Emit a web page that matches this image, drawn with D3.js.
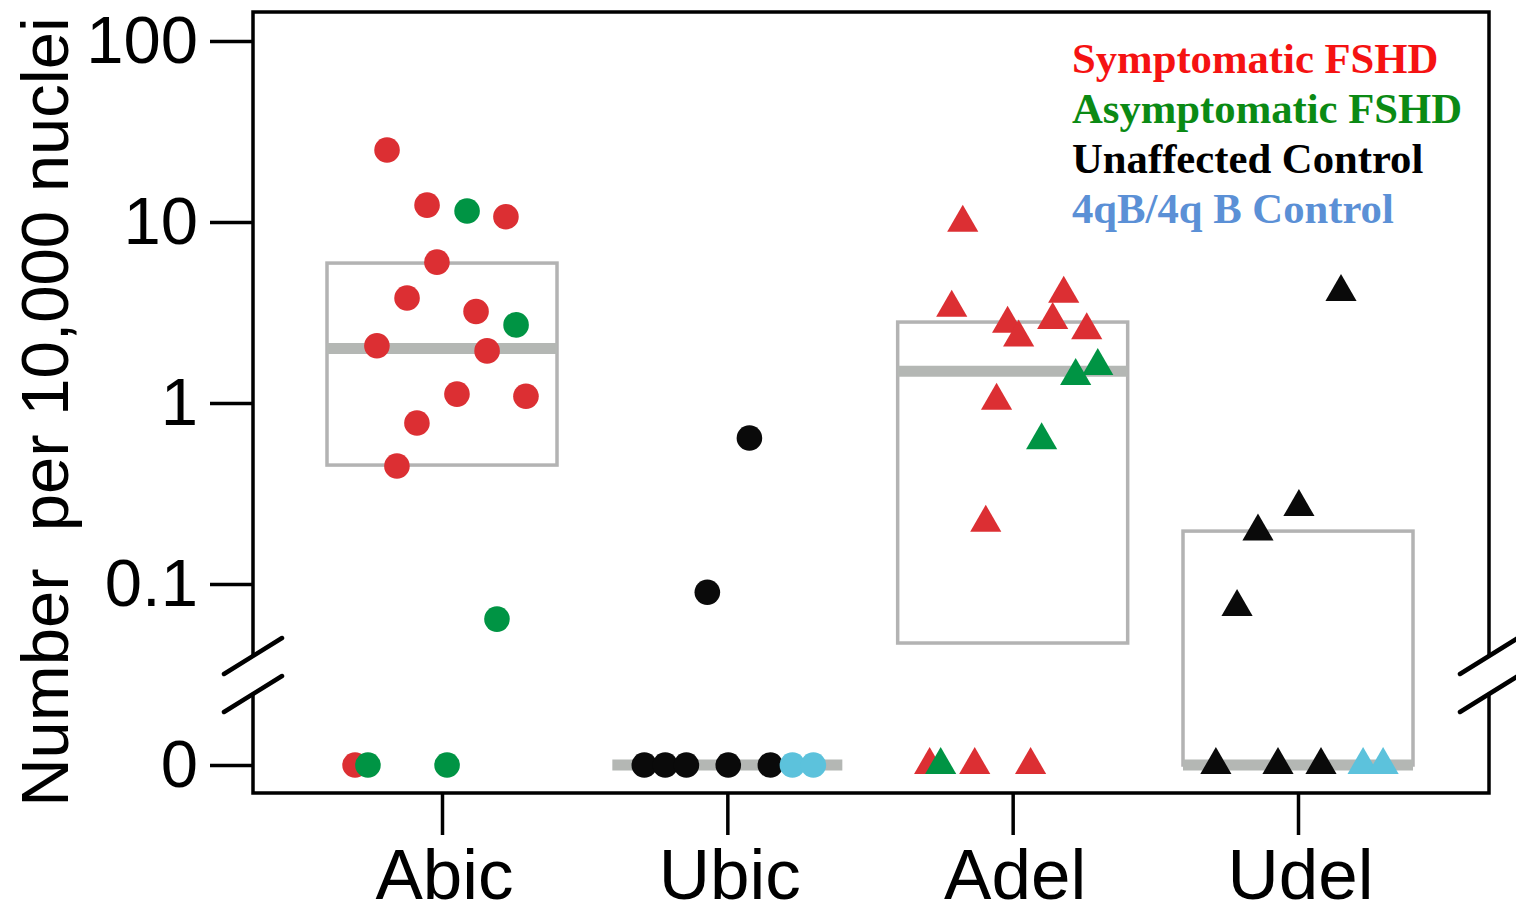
<!DOCTYPE html>
<html><head><meta charset="utf-8">
<script src="https://cdn.jsdelivr.net/npm/d3@7"></script>
<style>html,body{margin:0;padding:0;background:#fff;}svg{display:block;}</style>
</head><body><svg id="chart" width="1516" height="905"></svg>
<script>
// ---- data ----
const categories = ["Abic", "Ubic", "Adel", "Udel"];
const yTickValues = [100, 10, 1, 0.1];
const yTickLabels = ["100", "10", "1", "0.1"];
const zeroLabel = "0";
const legendLabels = ["Symptomatic FSHD", "Asymptomatic FSHD", "Unaffected Control", "4qB/4q B Control"];

// box statistics per category: lower edge, median, upper edge
const boxLow = [0.454, 0, 0.0472, 0];
const boxMedian = [2.0, 0, 1.5, 0];
const boxHigh = [5.93, 0, 2.80, 0.196];

// individual values (0 = none detected) and their horizontal jitter (fraction of box width)
const abicSymptomatic = [25, 12.4, 10.7, 6.0, 3.8, 3.2, 2.07, 1.94, 1.12, 1.09, 0.776, 0.449, 0];
const abicSymptomaticJitter = [-0.239, -0.065, 0.278, -0.022, -0.152, 0.148, -0.283, 0.196, 0.065, 0.365, -0.109, -0.196, -0.378];
const abicAsymptomatic = [11.5, 2.7, 0.064, 0, 0];
const abicAsymptomaticJitter = [0.109, 0.322, 0.239, -0.322, 0.022];

const ubicUnaffected = [0.641, 0.090, 0, 0, 0, 0, 0];
const ubicUnaffectedJitter = [0.096, -0.087, -0.361, -0.27, -0.178, 0.004, 0.187];
const ubic4qB = [0, 0];
const ubic4qBJitter = [0.283, 0.374];

const adelSymptomatic = [9.9, 3.36, 2.74, 2.30, 4.02, 2.87, 2.52, 1.03, 0.218, 0, 0, 0];
const adelSymptomaticJitter = [-0.217, -0.265, -0.022, 0.026, 0.222, 0.174, 0.322, -0.07, -0.117, -0.361, -0.165, 0.078];
const adelAsymptomatic = [1.60, 1.41, 0.622, 0];
const adelAsymptomaticJitter = [0.37, 0.274, 0.126, -0.313];

const udelUnaffected = [4.1, 0.266, 0.195, 0.0746, 0, 0, 0];
const udelUnaffectedJitter = [0.187, 0.004, -0.174, -0.265, -0.357, -0.087, 0.1];
const udel4qB = [0, 0];
const udel4qBJitter = [0.283, 0.37];

// ---- layout ----
const plot = {left: 253, right: 1489, top: 12, bottom: 793};
const yZero = 765, breakTop = 656, breakBottom = 694;
const boxWidth = 230;
const colors = {sym: "#dc2f33", asym: "#009444", unaff: "#0a0a0a", b4q: "#5cc2dc"};
const legendColors = ["#f51212", "#0b8a14", "#000000", "#5b90d6"];

const svg = d3.select("#chart");
const x = d3.scalePoint().domain(categories).range([442, 1298]);
const yLog = d3.scaleLog().domain([0.1, 100]).range([584, 41]);
const yZeroScale = d3.scaleLinear().domain([0, 1]).range([yZero, yZero - 100]);
const y = v => v > 0 ? yLog(v) : yZeroScale(0);
const jx = d3.scaleLinear().domain([-0.5, 0.5]).range([-boxWidth / 2, boxWidth / 2]);

const groups = [
  {cat: "Abic", shape: "circle", vals: abicSymptomatic, jit: abicSymptomaticJitter, color: colors.sym},
  {cat: "Abic", shape: "circle", vals: abicAsymptomatic, jit: abicAsymptomaticJitter, color: colors.asym},
  {cat: "Ubic", shape: "circle", vals: ubicUnaffected, jit: ubicUnaffectedJitter, color: colors.unaff},
  {cat: "Ubic", shape: "circle", vals: ubic4qB, jit: ubic4qBJitter, color: colors.b4q},
  {cat: "Adel", shape: "triangle", vals: adelSymptomatic, jit: adelSymptomaticJitter, color: colors.sym},
  {cat: "Adel", shape: "triangle", vals: adelAsymptomatic, jit: adelAsymptomaticJitter, color: colors.asym},
  {cat: "Udel", shape: "triangle", vals: udelUnaffected, jit: udelUnaffectedJitter, color: colors.unaff},
  {cat: "Udel", shape: "triangle", vals: udel4qB, jit: udel4qBJitter, color: colors.b4q}
];

// ---- boxes ----
const boxG = svg.append("g");
categories.forEach((c, i) => {
  const cx = x(c);
  if (boxHigh[i] > boxLow[i]) {
    boxG.append("rect")
      .attr("x", cx - boxWidth / 2).attr("width", boxWidth)
      .attr("y", y(boxHigh[i])).attr("height", y(boxLow[i]) - y(boxHigh[i]))
      .attr("fill", "none").attr("stroke", "#b3b3b3").attr("stroke-width", 3.5);
  }
  boxG.append("line")
    .attr("x1", cx - boxWidth / 2).attr("x2", cx + boxWidth / 2)
    .attr("y1", y(boxMedian[i])).attr("y2", y(boxMedian[i]))
    .attr("stroke", "#b4b7b4").attr("stroke-width", 11);
});

// ---- points ----
const circleSym = d3.symbol().type(d3.symbolCircle).size(Math.PI * 12.8 * 12.8);
const triSym = d3.symbol().type(d3.symbolTriangle).size(9 * 9 * 3 * Math.sqrt(3));
const ptG = svg.append("g");
groups.forEach(g => {
  ptG.selectAll(null).data(g.vals.map((v, k) => ({v, j: g.jit[k]})))
    .enter().append("path")
    .attr("d", g.shape === "circle" ? circleSym() : triSym())
    .attr("transform", d => `translate(${x(g.cat) + jx(d.j)},${y(d.v)})`)
    .attr("fill", g.color);
});

// ---- frame with axis breaks ----
const frame = svg.append("g").attr("stroke", "#000").attr("stroke-width", 3.5).attr("fill", "none");
frame.append("path").attr("d",
  `M${plot.left},${breakTop}V${plot.top}H${plot.right}V${breakTop}` +
  `M${plot.left},${breakBottom}V${plot.bottom}H${plot.right}V${breakBottom}`);
const slashes = svg.append("g").attr("stroke", "#000").attr("stroke-width", 4.5).attr("stroke-linecap", "round");
[plot.left, plot.right].forEach(ax => {
  [breakTop, breakBottom].forEach(by => {
    slashes.append("line").attr("x1", ax - 29).attr("y1", by + 18).attr("x2", ax + 29).attr("y2", by - 18);
  });
});

// ---- axes ----
const tickFont = "'Liberation Sans', Arial, Helvetica, sans-serif";
const yAxis = d3.axisLeft(yLog).tickValues(yTickValues).tickFormat((d, i) => yTickLabels[i]).tickSize(43).tickPadding(12);
const yAxisZero = d3.axisLeft(yZeroScale).tickValues([0]).tickFormat(() => zeroLabel).tickSize(43).tickPadding(12);
[yAxis, yAxisZero].forEach(ax => {
  const g = svg.append("g").attr("transform", `translate(${plot.left},0)`).call(ax);
  g.select(".domain").remove();
  g.selectAll(".tick line").attr("stroke", "#000").attr("stroke-width", 3.5);
  g.selectAll(".tick text").attr("font-family", tickFont).attr("font-size", 67).attr("fill", "#000");
});

const xAxis = d3.axisBottom(x).tickSize(42).tickPadding(18);
const xg = svg.append("g").attr("transform", `translate(0,${plot.bottom})`).call(xAxis);
xg.select(".domain").remove();
xg.selectAll(".tick line").attr("stroke", "#000").attr("stroke-width", 3.5);
xg.selectAll(".tick text").attr("font-family", tickFont).attr("font-size", 71).attr("fill", "#000")
  .attr("dy", null).attr("y", 0).attr("transform", "translate(2,106)");

// y-axis title
svg.append("text")
  .attr("transform", "translate(68,412) rotate(-90)")
  .attr("text-anchor", "middle")
  .attr("font-family", tickFont).attr("font-size", 67).attr("fill", "#000")
  .attr("xml:space", "preserve").style("white-space", "pre")
  .text("Number  per 10,000 nuclei");

// ---- legend ----
const legend = svg.append("g").attr("font-family", "'Liberation Serif', 'Times New Roman', serif")
  .attr("font-weight", "bold").attr("font-size", 42.7);
legendLabels.forEach((t, i) => {
  legend.append("text").attr("x", 1072).attr("y", 73 + i * 50).attr("fill", legendColors[i]).text(t);
});
</script></body></html>
